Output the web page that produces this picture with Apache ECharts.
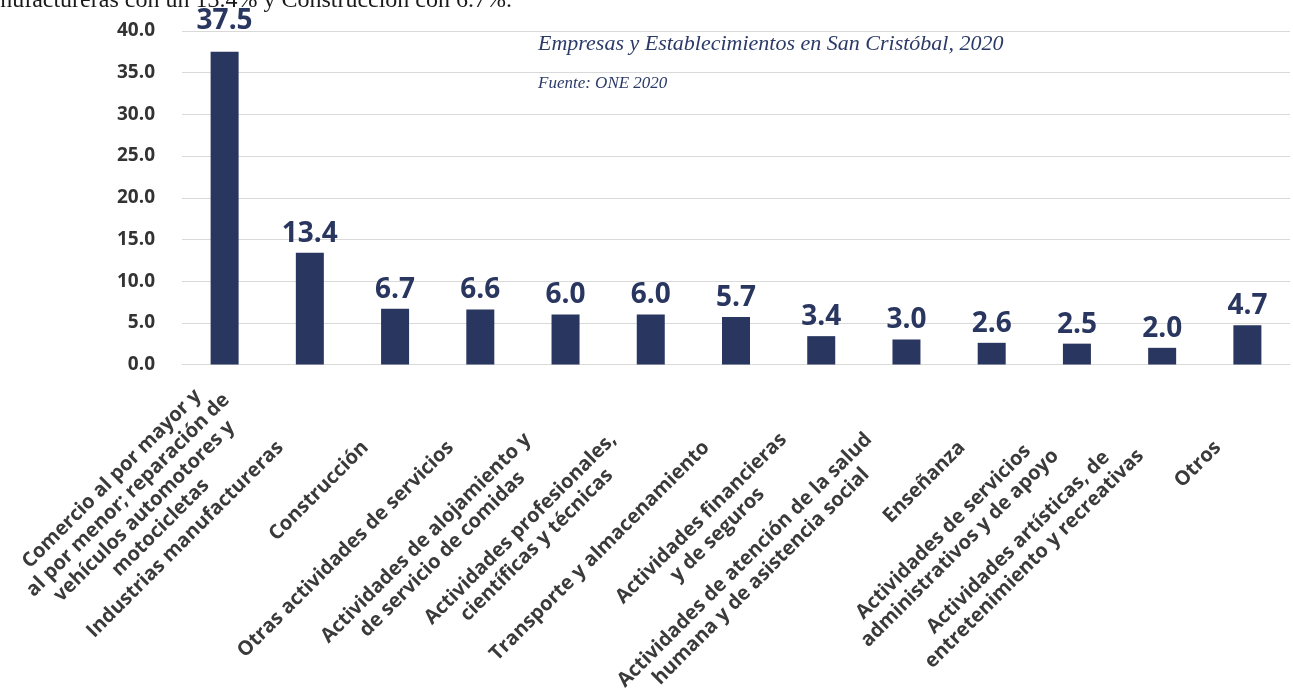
<!DOCTYPE html>
<html>
<head>
<meta charset="utf-8">
<script src="https://cdn.jsdelivr.net/npm/echarts@6/dist/echarts.min.js"></script>
<style>
html,body{margin:0;padding:0;background:#fff;}
#c{width:1293px;height:696px;}
</style>
</head>
<body>
<div id="c"></div>
<script>
const categories = [
  'Comercio al por mayor y\nal por menor; reparación de\nvehículos automotores y\nmotocicletas',
  'Industrias manufactureras',
  'Construcción',
  'Otras actividades de servicios',
  'Actividades de alojamiento y\nde servicio de comidas',
  'Actividades profesionales,\ncientíficas y técnicas',
  'Transporte y almacenamiento',
  'Actividades financieras\ny de seguros',
  'Actividades de atención de la salud\nhumana y de asistencia social',
  'Enseñanza',
  'Actividades de servicios\nadministrativos y de apoyo',
  'Actividades artísticas, de\nentretenimiento y recreativas',
  'Otros'
];
const values = [37.5, 13.4, 6.7, 6.6, 6.0, 6.0, 5.7, 3.4, 3.0, 2.6, 2.5, 2.0, 4.7];
const yTicks = [0, 5, 10, 15, 20, 25, 30, 35, 40];
const titleText = 'Empresas y Establecimientos en San Cristóbal, 2020';
const sourceText = 'Fuente: ONE 2020';
const topText = 'manufactureras con un 13.4% y Construcción con 6.7%.';

const navy = '#29365f';
const chart = echarts.init(document.getElementById('c'), null, {renderer: 'canvas'});

const seriesData = values.map((v, i) => i === 0
  ? {value: v, label: {offset: [0, -12]}}
  : v);

// the four-line first label sits higher, as in the reference
const axisData = categories.map((c, i) => i === 0
  ? {value: c, textStyle: {padding: [0, -35, 42, 0]}}
  : c);

chart.setOption({
  animation: false,
  backgroundColor: '#ffffff',
  grid: {left: 182, right: 3, top: 31, bottom: 331.5, containLabel: false, outerBoundsMode: 'none'},
  xAxis: {
    type: 'category',
    data: axisData,
    axisLine: {show: true, lineStyle: {color: '#d9d9d9', width: 1}},
    axisTick: {show: false},
    axisLabel: {
      interval: 0,
      rotate: 45,
      margin: 80,
      align: 'right',
      verticalAlign: 'middle',
      padding: [0, 21, 42, 0],
      hideOverlap: false,
      formatter: v => v.split('\n').map(l => '{c|' + l + '}').join('\n'),
      rich: {
        c: {align: 'center', fontFamily: 'Open Sans', fontWeight: 'bold', fontSize: 20, lineHeight: 23, color: '#3a3a3a'}
      }
    }
  },
  yAxis: {
    type: 'value',
    min: yTicks[0],
    max: yTicks[yTicks.length - 1],
    interval: yTicks[1] - yTicks[0],
    axisLine: {show: false},
    axisTick: {show: false},
    splitLine: {lineStyle: {color: '#d9d9d9', width: 1}},
    axisLabel: {
      margin: 27,
      formatter: v => v.toFixed(1),
      fontFamily: 'Open Sans',
      fontWeight: 'bold',
      fontSize: 19,
      color: '#333333'
    }
  },
  series: [{
    type: 'bar',
    data: seriesData,
    barWidth: 28,
    itemStyle: {color: navy},
    label: {
      show: true,
      position: 'top',
      distance: 5,
      formatter: p => Number(p.value).toFixed(1),
      fontFamily: 'Open Sans',
      fontWeight: 'bold',
      fontSize: 28,
      color: navy
    }
  }],
  graphic: [
    {type: 'text', left: 538, top: 33, style: {text: titleText, font: 'italic 22px "Liberation Serif"', fill: '#2b3a67'}},
    {type: 'text', left: 538, top: 75, style: {text: sourceText, font: 'italic 17px "Liberation Serif"', fill: '#2b3a67'}},
    {type: 'text', x: 512, y: 13, style: {text: topText, font: '24px "Liberation Serif"', fill: '#1a1a1a', align: 'right', verticalAlign: 'bottom'}}
  ]
});
</script>
</body>
</html>
